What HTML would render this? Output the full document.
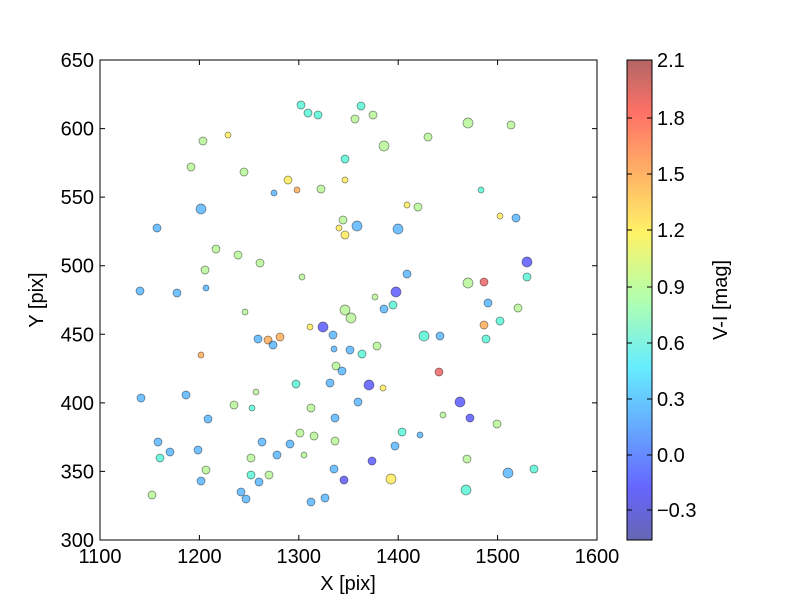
<!DOCTYPE html>
<html><head><style>body{margin:0;background:#fff}svg text{font-family:"Liberation Sans",sans-serif}</style></head><body>
<svg width="800" height="600" xmlns="http://www.w3.org/2000/svg">
<defs>
<linearGradient id="jet" x1="0" y1="1" x2="0" y2="0">
<stop offset="0" stop-color="#00007f"/><stop offset="0.11" stop-color="#0000ff"/><stop offset="0.36" stop-color="#00e0ff"/><stop offset="0.5" stop-color="#7dff7a"/><stop offset="0.64" stop-color="#ffea00"/><stop offset="0.89" stop-color="#ff1300"/><stop offset="1" stop-color="#7f0000"/>
</linearGradient>
</defs>
<rect x="100" y="60" width="497" height="480" fill="#fff" stroke="#000"/>
<g stroke="#000" stroke-opacity="0.5" stroke-width="0.7" fill-opacity="0.55">
<g fill="#00f0c0">
<circle cx="301" cy="105" r="4"/><circle cx="308" cy="113" r="4"/><circle cx="318" cy="115" r="4"/><circle cx="361" cy="106" r="4"/><circle cx="345" cy="159" r="4"/><circle cx="481" cy="190" r="3"/><circle cx="527" cy="277" r="4"/><circle cx="393" cy="305" r="4"/><circle cx="500" cy="321" r="4"/><circle cx="424" cy="336" r="5"/><circle cx="486" cy="339" r="4"/><circle cx="362" cy="354" r="4"/><circle cx="296" cy="384" r="4"/><circle cx="252" cy="408" r="3"/><circle cx="402" cy="432" r="4"/><circle cx="160" cy="458" r="4"/><circle cx="534" cy="469" r="4"/><circle cx="251" cy="475" r="4"/><circle cx="466" cy="490" r="5"/>
</g>
<g fill="#90f060">
<circle cx="373" cy="115" r="4"/><circle cx="355" cy="119" r="4"/><circle cx="468" cy="123" r="5"/><circle cx="511" cy="125" r="4"/><circle cx="203" cy="141" r="4"/><circle cx="428" cy="137" r="4"/><circle cx="384" cy="146" r="5"/><circle cx="191" cy="167" r="4"/><circle cx="244" cy="172" r="4"/><circle cx="321" cy="189" r="4"/><circle cx="418" cy="207" r="4"/><circle cx="343" cy="220" r="4"/><circle cx="216" cy="249" r="4"/><circle cx="238" cy="255" r="4"/><circle cx="260" cy="263" r="4"/><circle cx="205" cy="270" r="4"/><circle cx="302" cy="277" r="3"/><circle cx="468" cy="283" r="5"/><circle cx="375" cy="297" r="3"/><circle cx="518" cy="308" r="4"/><circle cx="245" cy="312" r="3"/><circle cx="345" cy="310" r="5"/><circle cx="351" cy="318" r="5"/><circle cx="377" cy="346" r="4"/><circle cx="336" cy="366" r="4"/><circle cx="256" cy="392" r="3"/><circle cx="234" cy="405" r="4"/><circle cx="311" cy="408" r="4"/><circle cx="443" cy="415" r="3"/><circle cx="497" cy="424" r="4"/><circle cx="300" cy="433" r="4"/><circle cx="314" cy="436" r="4"/><circle cx="335" cy="441" r="4"/><circle cx="304" cy="455" r="3"/><circle cx="251" cy="458" r="4"/><circle cx="467" cy="459" r="4"/><circle cx="206" cy="470" r="4"/><circle cx="269" cy="475" r="4"/><circle cx="152" cy="495" r="4"/>
</g>
<g fill="#ffe000">
<circle cx="228" cy="135" r="3"/><circle cx="288" cy="180" r="4"/><circle cx="345" cy="180" r="3"/><circle cx="407" cy="205" r="3"/><circle cx="500" cy="216" r="3"/><circle cx="339" cy="228" r="3"/><circle cx="345" cy="235" r="4"/><circle cx="310" cy="327" r="3"/><circle cx="383" cy="388" r="3"/><circle cx="391" cy="479" r="5"/>
</g>
<g fill="#ff8000">
<circle cx="297" cy="190" r="3"/><circle cx="484" cy="325" r="4"/><circle cx="280" cy="337" r="4"/><circle cx="268" cy="340" r="4"/><circle cx="201" cy="355" r="3"/>
</g>
<g fill="#e01010">
<circle cx="484" cy="282" r="4"/><circle cx="439" cy="372" r="4"/>
</g>
<g fill="#0000ff">
<circle cx="527" cy="262" r="5"/><circle cx="396" cy="292" r="5"/><circle cx="323" cy="327" r="5"/><circle cx="369" cy="385" r="5"/><circle cx="460" cy="402" r="5"/><circle cx="470" cy="418" r="4"/><circle cx="372" cy="461" r="4"/><circle cx="344" cy="480" r="4"/>
</g>
<g fill="#0090ff">
<circle cx="274" cy="193" r="3"/><circle cx="201" cy="209" r="5"/><circle cx="516" cy="218" r="4"/><circle cx="157" cy="228" r="4"/><circle cx="357" cy="226" r="5"/><circle cx="398" cy="229" r="5"/><circle cx="407" cy="274" r="4"/><circle cx="140" cy="291" r="4"/><circle cx="177" cy="293" r="4"/><circle cx="206" cy="288" r="3"/><circle cx="488" cy="303" r="4"/><circle cx="384" cy="309" r="4"/><circle cx="333" cy="335" r="4"/><circle cx="258" cy="339" r="4"/><circle cx="440" cy="336" r="4"/><circle cx="273" cy="345" r="4"/><circle cx="334" cy="349" r="3"/><circle cx="350" cy="350" r="4"/><circle cx="342" cy="371" r="4"/><circle cx="330" cy="383" r="4"/><circle cx="186" cy="395" r="4"/><circle cx="141" cy="398" r="4"/><circle cx="358" cy="402" r="4"/><circle cx="208" cy="419" r="4"/><circle cx="335" cy="418" r="4"/><circle cx="420" cy="435" r="3"/><circle cx="262" cy="442" r="4"/><circle cx="158" cy="442" r="4"/><circle cx="290" cy="444" r="4"/><circle cx="395" cy="446" r="4"/><circle cx="170" cy="452" r="4"/><circle cx="198" cy="450" r="4"/><circle cx="277" cy="455" r="4"/><circle cx="334" cy="469" r="4"/><circle cx="508" cy="473" r="5"/><circle cx="201" cy="481" r="4"/><circle cx="259" cy="482" r="4"/><circle cx="241" cy="492" r="4"/><circle cx="246" cy="499" r="4"/><circle cx="311" cy="502" r="4"/><circle cx="325" cy="498" r="4"/>
</g>
</g>
<g stroke="#000" stroke-width="1">
<path d="M100,540v-5M199.4,540v-5M298.8,540v-5M398.2,540v-5M497.6,540v-5M597,540v-5M100,60v5M199.4,60v5M298.8,60v5M398.2,60v5M497.6,60v5"/>
<path d="M100,60h5M100,128.6h5M100,197.1h5M100,265.7h5M100,334.3h5M100,402.9h5M100,471.4h5M100,540h5M597,128.6h-5M597,197.1h-5M597,265.7h-5M597,334.3h-5M597,402.9h-5M597,471.4h-5"/>
</g>
<g font-size="20" text-anchor="middle">
<text x="100" y="563">1100</text><text x="199.4" y="563">1200</text><text x="298.8" y="563">1300</text><text x="398.2" y="563">1400</text><text x="497.6" y="563">1500</text><text x="597" y="563">1600</text>
<text x="348" y="590">X [pix]</text>
</g>
<g font-size="20" text-anchor="end">
<text x="94" y="67">650</text><text x="94" y="135.6">600</text><text x="94" y="204.1">550</text><text x="94" y="272.7">500</text><text x="94" y="341.3">450</text><text x="94" y="409.9">400</text><text x="94" y="478.4">350</text><text x="94" y="547">300</text>
</g>
<text font-size="20" text-anchor="middle" transform="translate(43,300) rotate(-90)">Y [pix]</text>
<rect x="627" y="60" width="25" height="480" fill="url(#jet)" opacity="0.6"/>
<rect x="627" y="60" width="25" height="480" fill="none" stroke="#000"/>
<g stroke="#000"><path d="M652,60h-5M652,118h-5M652,174h-5M652,230h-5M652,287h-5M652,343h-5M652,399h-5M652,455h-5M652,510h-5M627,118h5M627,174h5M627,230h5M627,287h5M627,343h5M627,399h5M627,455h5M627,510h5"/></g>
<g font-size="20"><text x="657" y="67">2.1</text><text x="657" y="125">1.8</text><text x="657" y="181">1.5</text><text x="657" y="237">1.2</text><text x="657" y="294">0.9</text><text x="657" y="350">0.6</text><text x="657" y="406">0.3</text><text x="657" y="462">0.0</text><text x="657" y="517">−0.3</text></g>
<text font-size="20" text-anchor="middle" transform="translate(727,300) rotate(-90)">V-I [mag]</text>
</svg>
</body></html>
